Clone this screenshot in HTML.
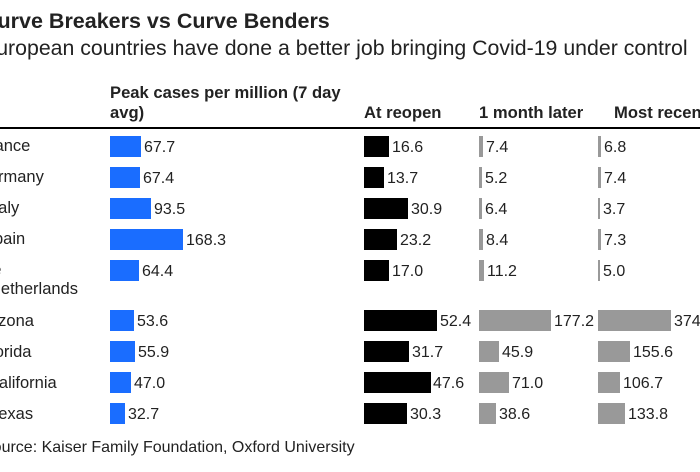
<!DOCTYPE html>
<html><head><meta charset="utf-8"><style>
body{margin:0;background:#fff;width:700px;height:467px;overflow:hidden}
svg text{font-family:"Liberation Sans",sans-serif;fill:#222}
</style></head><body>
<svg width="700" height="467" xmlns="http://www.w3.org/2000/svg">
<text x="-18" y="28" font-size="21.5" font-weight="bold" fill="#000">Curve Breakers vs Curve Benders</text>
<text x="-18" y="55" font-size="21.3">European countries have done a better job bringing Covid-19 under control</text>
<g font-size="16.6" font-weight="bold" fill="#333">
<text x="110" y="98">Peak cases per million (7 day</text>
<text x="110" y="118">avg)</text>
<text x="364" y="118">At reopen</text>
<text x="479" y="118">1 month later</text>
<text x="614" y="118">Most recent</text>
</g>
<rect x="0" y="127" width="700" height="2" fill="#000"/>
<g font-size="16.5">
<text x="-21" y="151">France</text>
<text x="-24" y="182">Germany</text>
<text x="-11" y="213">Italy</text>
<text x="-17" y="244">Spain</text>
<text x="-27" y="275">The</text>
<text x="-11" y="294">Netherlands</text>
<text x="-22" y="326">Arizona</text>
<text x="-19" y="357">Florida</text>
<text x="-13" y="388">California</text>
<text x="-10" y="419">Texas</text>
</g>
<g fill="#1a6dff">
<rect x="110" y="136" width="31" height="21"/>
<rect x="110" y="167" width="30" height="21"/>
<rect x="110" y="198" width="41" height="21"/>
<rect x="110" y="229" width="73" height="21"/>
<rect x="110" y="260" width="29" height="21"/>
<rect x="110" y="310" width="24" height="21"/>
<rect x="110" y="341" width="25" height="21"/>
<rect x="110" y="372" width="21" height="21"/>
<rect x="110" y="403" width="15" height="21"/>
</g>
<g fill="#000">
<rect x="364" y="136" width="25" height="21"/>
<rect x="364" y="167" width="20" height="21"/>
<rect x="364" y="198" width="44" height="21"/>
<rect x="364" y="229" width="33" height="21"/>
<rect x="364" y="260" width="25" height="21"/>
<rect x="364" y="310" width="73" height="21"/>
<rect x="364" y="341" width="45" height="21"/>
<rect x="364" y="372" width="67" height="21"/>
<rect x="364" y="403" width="43" height="21"/>
</g>
<g fill="#999">
<rect x="479" y="136" width="4" height="21"/>
<rect x="479" y="167" width="3" height="21"/>
<rect x="479" y="198" width="3" height="21"/>
<rect x="479" y="229" width="4" height="21"/>
<rect x="479" y="260" width="5" height="21"/>
<rect x="479" y="310" width="72" height="21"/>
<rect x="479" y="341" width="20" height="21"/>
<rect x="479" y="372" width="30" height="21"/>
<rect x="479" y="403" width="17" height="21"/>
<rect x="598" y="136" width="3" height="21"/>
<rect x="598" y="167" width="3" height="21"/>
<rect x="598" y="198" width="2" height="21"/>
<rect x="598" y="229" width="3" height="21"/>
<rect x="598" y="260" width="2" height="21"/>
<rect x="598" y="310" width="73" height="21"/>
<rect x="598" y="341" width="32" height="21"/>
<rect x="598" y="372" width="22" height="21"/>
<rect x="598" y="403" width="27" height="21"/>
</g>
<g font-size="16" fill="#333">
<text x="144" y="152">67.7</text>
<text x="143" y="183">67.4</text>
<text x="154" y="214">93.5</text>
<text x="186" y="245">168.3</text>
<text x="142" y="276">64.4</text>
<text x="137" y="326">53.6</text>
<text x="138" y="357">55.9</text>
<text x="134" y="388">47.0</text>
<text x="128" y="419">32.7</text>
<text x="392" y="152">16.6</text>
<text x="387" y="183">13.7</text>
<text x="411" y="214">30.9</text>
<text x="400" y="245">23.2</text>
<text x="392" y="276">17.0</text>
<text x="440" y="326">52.4</text>
<text x="412" y="357">31.7</text>
<text x="433" y="388">47.6</text>
<text x="410" y="419">30.3</text>
<text x="486" y="152">7.4</text>
<text x="485" y="183">5.2</text>
<text x="485" y="214">6.4</text>
<text x="486" y="245">8.4</text>
<text x="487" y="276">11.2</text>
<text x="554" y="326">177.2</text>
<text x="502" y="357">45.9</text>
<text x="512" y="388">71.0</text>
<text x="499" y="419">38.6</text>
<text x="604" y="152">6.8</text>
<text x="604" y="183">7.4</text>
<text x="603" y="214">3.7</text>
<text x="604" y="245">7.3</text>
<text x="603" y="276">5.0</text>
<text x="674" y="326">374.0</text>
<text x="633" y="357">155.6</text>
<text x="623" y="388">106.7</text>
<text x="628" y="419">133.8</text>
</g>
<text x="-18" y="452" font-size="16">Source: Kaiser Family Foundation, Oxford University</text>
</svg>
</body></html>
